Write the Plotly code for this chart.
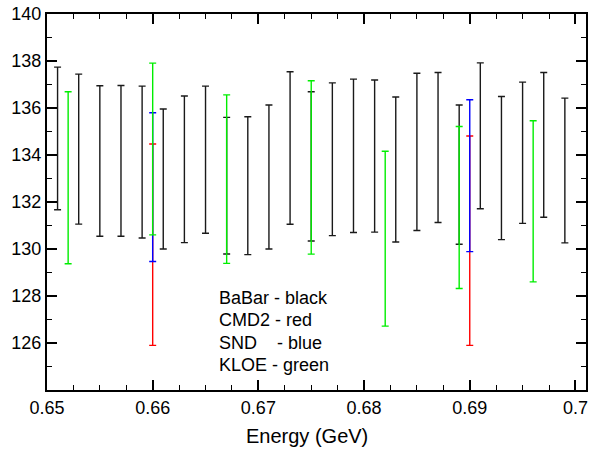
import plotly.graph_objects as go

# BaBar (black)
babar_x = [0.651, 0.653, 0.655, 0.657, 0.659, 0.661, 0.663, 0.665, 0.667, 0.669,
           0.671, 0.673, 0.675, 0.677, 0.679, 0.681, 0.683, 0.685, 0.687, 0.689,
           0.691, 0.693, 0.695, 0.697, 0.699]
babar_lo = [131.67, 131.06, 130.54, 130.54, 130.47, 130.00, 130.27, 130.67, 129.79, 129.76,
            130.00, 131.05, 130.34, 130.57, 130.70, 130.72, 130.30, 130.79, 131.13, 130.20,
            131.71, 130.40, 131.09, 131.35, 130.26]
babar_hi = [137.74, 137.44, 136.95, 136.96, 136.93, 135.96, 136.51, 136.93, 135.60, 135.63,
            136.13, 137.54, 136.69, 137.07, 137.23, 137.19, 136.47, 137.48, 137.51, 136.13,
            137.92, 136.49, 137.10, 137.51, 136.42]

# CMD2 (red)
cmd2_x = [0.660, 0.690]
cmd2_lo = [125.90, 125.90]
cmd2_hi = [134.47, 134.81]

# SND (blue)
snd_x = [0.660, 0.690]
snd_lo = [129.47, 129.89]
snd_hi = [135.80, 136.35]

# KLOE (green)
kloe_x = [0.652, 0.660, 0.667, 0.675, 0.682, 0.689, 0.696]
kloe_lo = [129.37, 130.60, 129.39, 129.78, 126.72, 128.32, 128.60]
kloe_hi = [136.69, 137.91, 136.56, 137.16, 134.16, 135.21, 135.46]

x_tickvals = [0.65, 0.66, 0.67, 0.68, 0.69, 0.70]
x_ticktext = ["0.65", "0.66", "0.67", "0.68", "0.69", "0.7"]
y_tickvals = [126, 128, 130, 132, 134, 136, 138, 140]

x_title = "Energy (GeV)"
legend_lines = ["BaBar - black", "CMD2 - red", "SND\u00a0\u00a0\u00a0 - blue", "KLOE - green"]

FONT = "Liberation Sans, Arial, Helvetica, sans-serif"

fig = go.Figure()


def add_bars(xs, lo, hi, color, width=3.5):
    mid = [(a + b) / 2 for a, b in zip(lo, hi)]
    half = [(b - a) / 2 for a, b in zip(lo, hi)]
    fig.add_trace(go.Scatter(
        x=xs, y=mid, mode="markers",
        marker=dict(size=0.1, color="rgba(0,0,0,0)"),
        error_y=dict(type="data", array=half, symmetric=True, color=color,
                     thickness=1.4, width=width),
        showlegend=False, hoverinfo="skip"))


add_bars(babar_x, babar_lo, babar_hi, "#1a1a1a")
add_bars(cmd2_x, cmd2_lo, cmd2_hi, "#ff0000")
add_bars(snd_x, snd_lo, snd_hi, "#0000ff")
add_bars(kloe_x, kloe_lo, kloe_hi, "#00ee00")

ann_y = [127.92, 126.98, 126.0, 125.06]
for txt, yy in zip(legend_lines, ann_y):
    fig.add_annotation(x=0.6661, y=yy, xref="x", yref="y", text=txt, showarrow=False,
                       xanchor="left", yanchor="middle",
                       font=dict(family=FONT, size=18, color="black"))

# x-axis title (placed slightly left of plot centre, as in the reference)
fig.add_annotation(x=0.4824, y=-0.1223, xref="paper", yref="paper", text=x_title,
                   showarrow=False, xanchor="center", yanchor="middle",
                   font=dict(family=FONT, size=20, color="black"))

axis_common = dict(
    showline=True, linecolor="black", linewidth=2, mirror="allticks",
    ticks="inside", ticklen=10, tickwidth=1.5, tickcolor="black",
    showgrid=False, zeroline=False, automargin=False,
    tickfont=dict(family=FONT, size=18, color="black"),
)

fig.update_xaxes(range=[0.65, 0.701], tickvals=x_tickvals, ticktext=x_ticktext,
                 minor=dict(ticks="inside", ticklen=5, dtick=0.0025, tick0=0.65,
                            tickwidth=1.2, tickcolor="black", showgrid=False),
                 **axis_common)
fig.update_yaxes(range=[124, 140], tickvals=y_tickvals,
                 minor=dict(ticks="inside", ticklen=5, dtick=1, tick0=124,
                            tickwidth=1.2, tickcolor="black", showgrid=False),
                 **axis_common)

fig.update_layout(
    width=589, height=452,
    margin=dict(l=47, r=3, t=14, b=62),
    plot_bgcolor="white", paper_bgcolor="white",
    font=dict(family=FONT, color="black"),
)

fig.write_html("out.html", config={"displayModeBar": False},
               post_script="document.body.style.margin='0';document.body.style.overflow='hidden';")
